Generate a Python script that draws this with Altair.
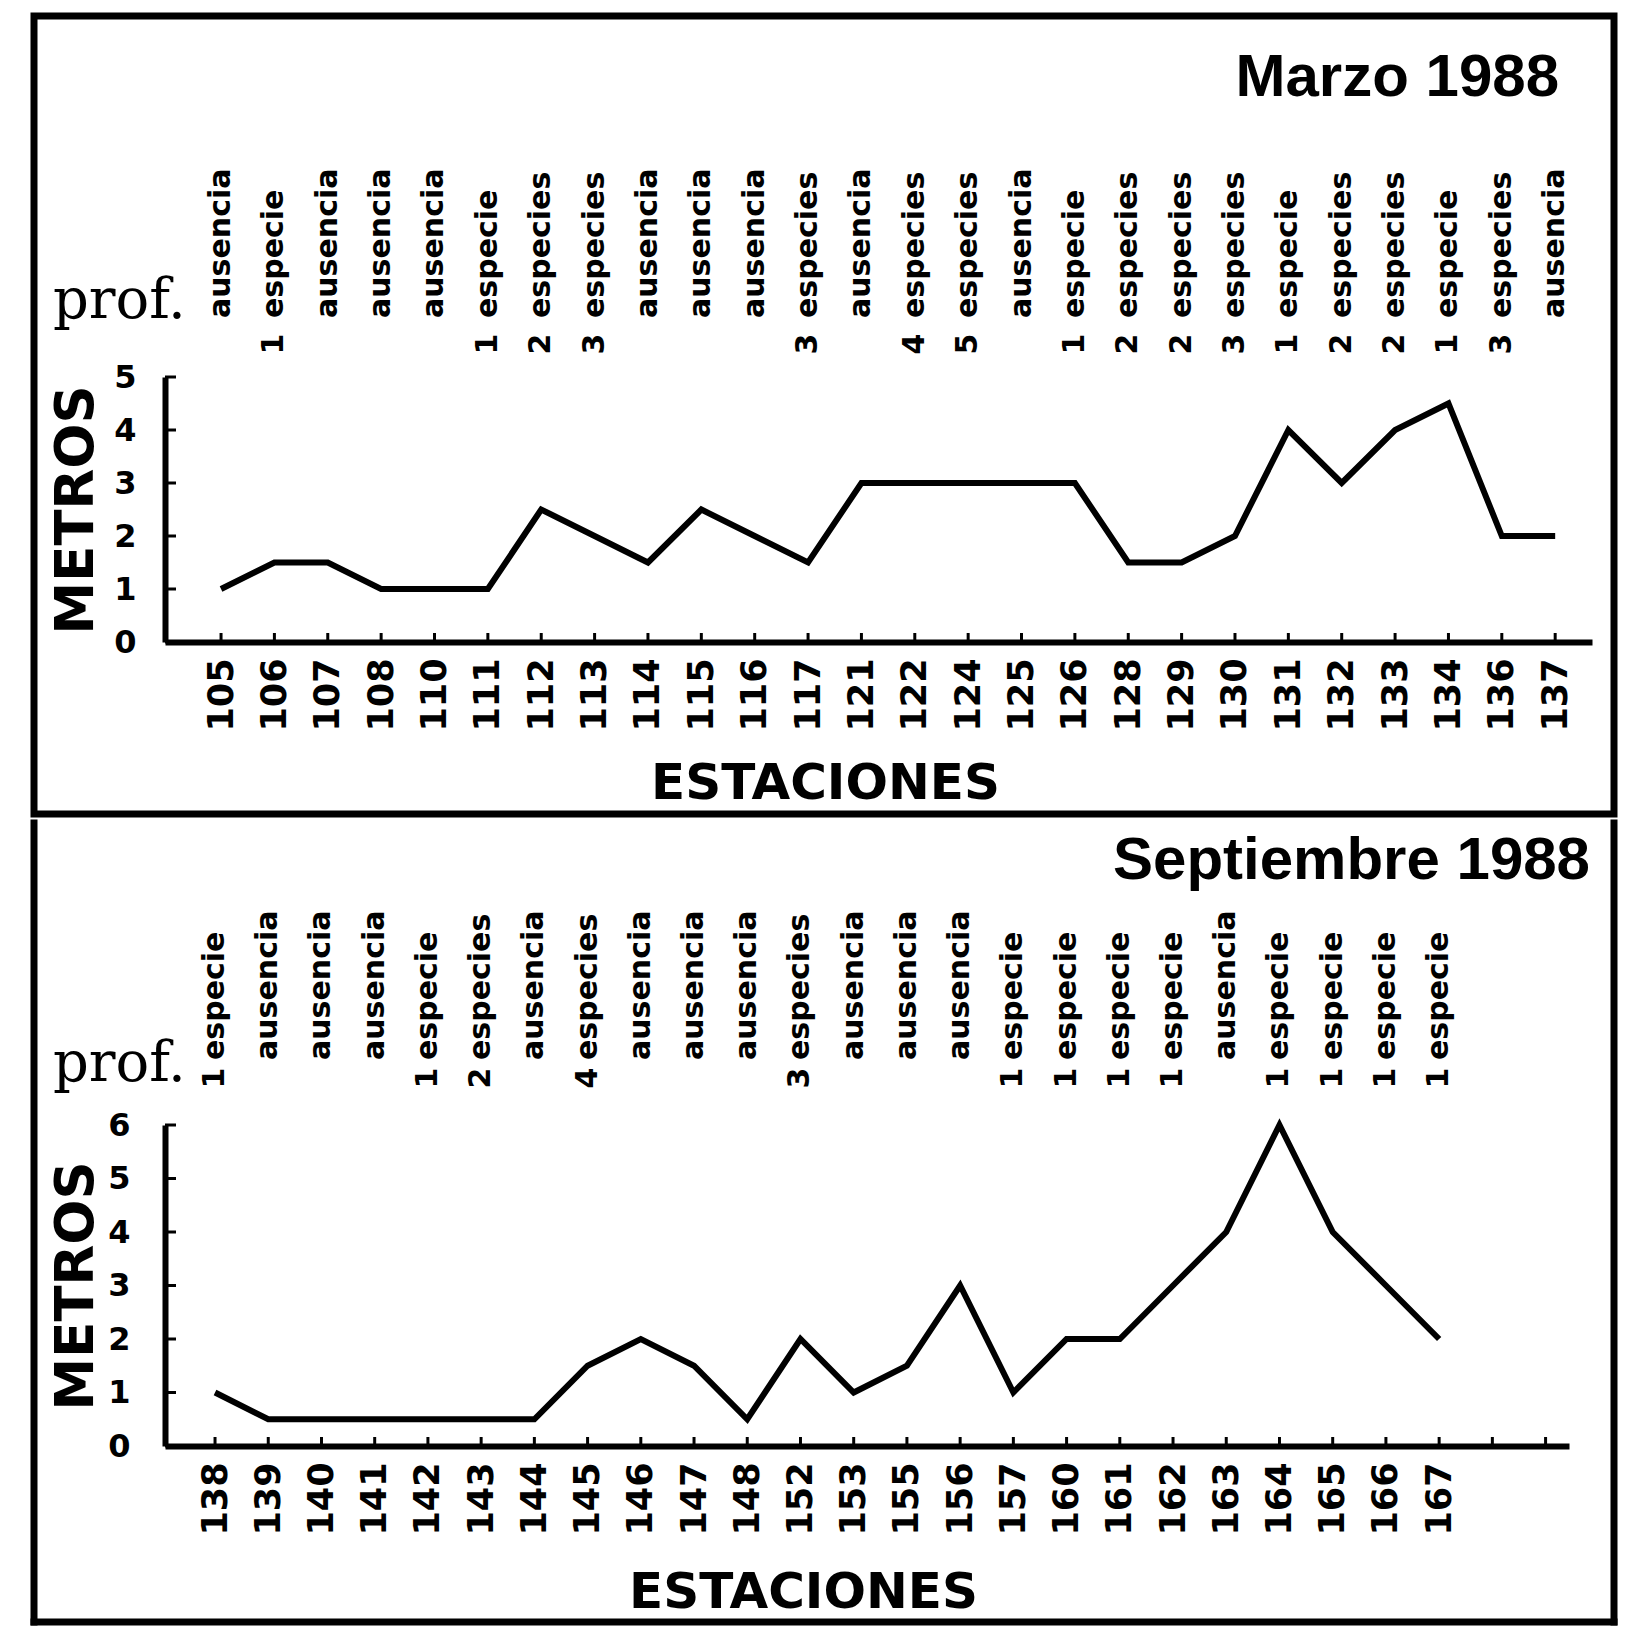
import altair as alt
import pandas as pd

# ---------------- data ----------------
marzo_est = ["105", "106", "107", "108", "110", "111", "112", "113", "114", "115",
             "116", "117", "121", "122", "124", "125", "126", "128", "129", "130",
             "131", "132", "133", "134", "136", "137"]
marzo_prof = [1.0, 1.5, 1.5, 1.0, 1.0, 1.0, 2.5, 2.0, 1.5, 2.5,
              2.0, 1.5, 3.0, 3.0, 3.0, 3.0, 3.0, 1.5, 1.5, 2.0,
              4.0, 3.0, 4.0, 4.5, 2.0, 2.0]
marzo_num = ["", "1", "", "", "", "1", "2", "3", "", "",
             "", "3", "", "4", "5", "", "1", "2", "2", "3",
             "1", "2", "2", "1", "3", ""]
marzo_pal = ["ausencia", "especie", "ausencia", "ausencia", "ausencia", "especie",
             "especies", "especies", "ausencia", "ausencia", "ausencia", "especies",
             "ausencia", "especies", "especies", "ausencia", "especie", "especies",
             "especies", "especies", "especie", "especies", "especies", "especie",
             "especies", "ausencia"]

sept_est = ["138", "139", "140", "141", "142", "143", "144", "145", "146", "147",
            "148", "152", "153", "155", "156", "157", "160", "161", "162", "163",
            "164", "165", "166", "167"]
sept_prof = [1.0, 0.5, 0.5, 0.5, 0.5, 0.5, 0.5, 1.5, 2.0, 1.5,
             0.5, 2.0, 1.0, 1.5, 3.0, 1.0, 2.0, 2.0, 3.0, 4.0,
             6.0, 4.0, 3.0, 2.0]
sept_num = ["1", "", "", "", "1", "2", "", "4", "", "",
            "", "3", "", "", "", "1", "1", "1", "1", "",
            "1", "1", "1", "1"]
sept_pal = ["especie", "ausencia", "ausencia", "ausencia", "especie", "especies",
            "ausencia", "especies", "ausencia", "ausencia", "ausencia", "especies",
            "ausencia", "ausencia", "ausencia", "especie", "especie", "especie",
            "especie", "ausencia", "especie", "especie", "especie", "especie"]

FONT = "DejaVu Sans"


def one(text):
    return pd.DataFrame({"t": [text]})


def panel(est, prof, num, pal, title, ymax, W, H, xdom, nticks, p):
    n = len(est)
    df = pd.DataFrame({"idx": list(range(n)), "prof": prof, "num": num, "pal": pal})
    label_arr = "[" + ",".join("'%s'" % e for e in est) + "]"

    x_enc = alt.X(
        "idx:Q",
        scale=alt.Scale(domain=xdom, nice=False, zero=False),
        axis=alt.Axis(
            values=list(range(n)), labelExpr=label_arr + "[datum.value]",
            labelAngle=270, labelFont=FONT, labelFontWeight="bold", labelFontSize=35,
            labelPadding=16, labelColor="black", labelOverlap=False, labelFlush=False,
            labelBound=False, ticks=False, grid=False, domainColor="black",
            domainWidth=6, title="ESTACIONES", titleFont=FONT, titleFontSize=50,
            titleFontWeight="bold", titleColor="black", titleAngle=0,
            titleX=p["tx"], titleY=p["ty"], titleAlign="center",
            titleBaseline="alphabetic"),
    )
    y_enc = alt.Y(
        "prof:Q",
        scale=alt.Scale(domain=[0, ymax], nice=False, zero=True),
        axis=alt.Axis(
            values=list(range(ymax + 1)), format="d", labelFont=FONT,
            labelFontWeight="bold", labelFontSize=32, labelPadding=p["lp"],
            labelColor="black", ticks=False, grid=False, domainColor="black",
            domainWidth=6, title="METROS", titleFont=FONT, titleFontSize=53,
            titleFontWeight="bold", titleColor="black", titleAngle=270,
            titleX=p["mx"], titleY=H / 2, titleAlign="center", titleBaseline="middle"),
    )

    line = alt.Chart(df).mark_line(color="black", strokeWidth=6).encode(x=x_enc, y=y_enc)

    yt = pd.DataFrame({"prof": list(range(ymax + 1))})
    yticks = alt.Chart(yt).mark_rule(color="black", strokeWidth=3).encode(
        y=y_enc, x=alt.value(0), x2=alt.value(11))

    xt = pd.DataFrame({"idx": list(range(nticks))})
    xticks = alt.Chart(xt).mark_rule(color="black", strokeWidth=3).encode(
        x=x_enc, y=alt.value(H), y2=alt.value(H - 9))

    words = alt.Chart(df).mark_text(
        angle=270, align="left", baseline="middle", font=FONT, fontWeight="bold",
        fontSize=30, color="black").encode(x=x_enc, y=alt.value(p["wy"]), text="pal:N")
    nums = alt.Chart(df).mark_text(
        angle=270, align="center", baseline="middle", font=FONT, fontWeight="bold",
        fontSize=30, color="black").encode(x=x_enc, y=alt.value(p["ny"]), text="num:N")

    prof_t = alt.Chart(one("prof.")).mark_text(
        align="left", baseline="alphabetic", font="DejaVu Serif", fontSize=56,
        color="black").encode(x=alt.value(p["px"]), y=alt.value(p["py"]), text="t:N")
    title_t = alt.Chart(one(title)).mark_text(
        align="right", baseline="alphabetic", font="Liberation Sans", fontWeight="bold",
        fontSize=60, color="black").encode(x=alt.value(p["hx"]), y=alt.value(p["hy"]),
                                           text="t:N")

    layers = [line, yticks, xticks, words, nums, prof_t, title_t]
    b = p["border"]
    if p["full_border"]:
        layers.append(alt.Chart(one("b")).mark_rect(
            fillOpacity=0, stroke="black", strokeWidth=7).encode(
            x=alt.value(b[0]), x2=alt.value(b[1]), y=alt.value(b[2]), y2=alt.value(b[3])))
    else:
        layers.append(alt.Chart(one("b")).mark_rule(
            color="black", strokeWidth=7, strokeCap="square").encode(
            x=alt.value(b[0]), y=alt.value(b[2]), y2=alt.value(b[3])))
        layers.append(alt.Chart(one("b")).mark_rule(
            color="black", strokeWidth=7, strokeCap="square").encode(
            x=alt.value(b[1]), y=alt.value(b[2]), y2=alt.value(b[3])))
        layers.append(alt.Chart(one("b")).mark_rule(
            color="black", strokeWidth=7, strokeCap="square").encode(
            x=alt.value(b[0]), x2=alt.value(b[1]), y=alt.value(b[3])))

    return alt.layer(*layers).properties(width=W, height=H)


top = panel(marzo_est, marzo_prof, marzo_num, marzo_pal, "Marzo 1988", 5, 1427, 265,
            [-1.05, 25.69], 26,
            dict(tx=660, ty=156, lp=29, mx=-89, wy=-59, ny=-33, px=-112, py=-59,
                 hx=1394, hy=-281, border=(-131, 1449, -361, 437), full_border=True))

bottom = panel(sept_est, sept_prof, sept_num, sept_pal, "Septiembre 1988", 6, 1404, 321,
               [-0.94, 25.44], 26,
               dict(tx=638, ty=161, lp=35, mx=-89, wy=-65, ny=-47, px=-112, py=-44,
                    hx=1425, hy=-246, border=(-131, 1449, -302, 497), full_border=False))

chart = alt.vconcat(top, bottom, spacing=0).configure_view(stroke=None).properties(
    padding={"left": 21, "top": 4, "right": 5, "bottom": 5}, background="white")

chart.save("out.html", embed_options={"renderer": "svg", "actions": False})
